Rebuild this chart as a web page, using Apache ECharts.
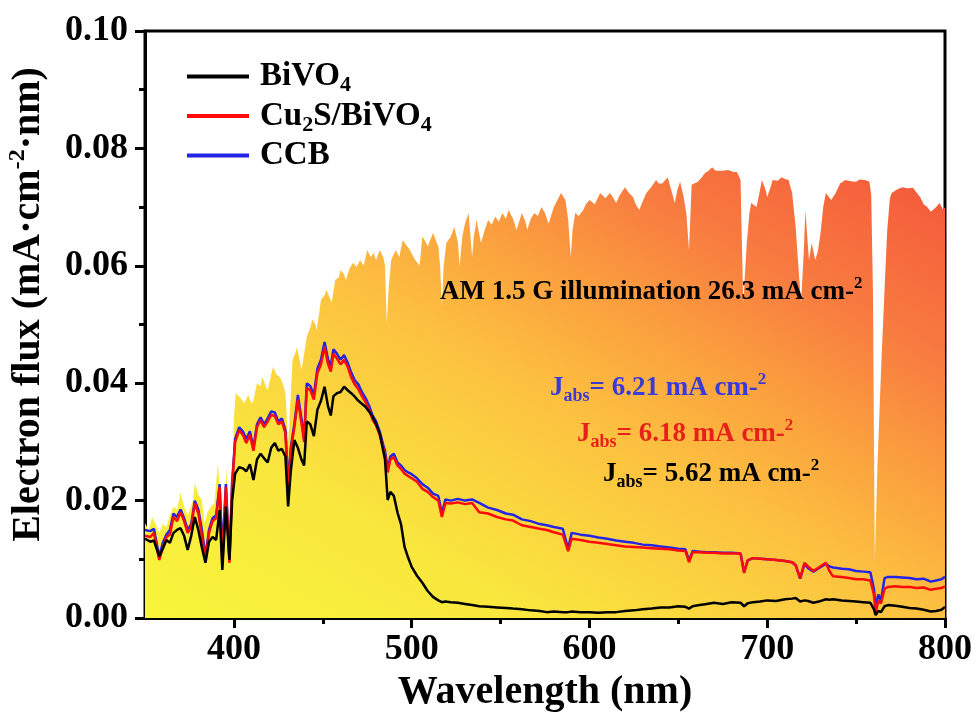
<!DOCTYPE html>
<html>
<head>
<meta charset="utf-8">
<script src="https://cdn.jsdelivr.net/npm/echarts@6.0.0/dist/echarts.min.js"></script>
<style>
html,body{margin:0;padding:0;background:#fff;}
#chart{width:976px;height:718px;}
</style>
</head>
<body>
<div id="chart"></div>
<script>
// AM 1.5G electron flux
var amWl = [350,352,354,356,358,360,362,364,366,368,370,372,374,375,377,378,380,382,383.5,385,387,389,391,392.5,393.5,395,396,397,398.5,
  400,401,403,405,406,408,410,411,413,415,416,418,419,421,422,424,426,428,429,430.5,432,433,435,435.5,437,438,439.5,441,443,444,446,446.5,448,449,
  451,452,454,455,457,459,460,462,463,465,467,469,471,473,475,477,478.5,480,482,484,485,486,487,488.5,491,493,495,497,499,
  501,502,504.5,506,508,509,512,514,515,516,517,518,519.5,522,524,526,527,528.5,530,532,534,535,536.5,539,541,543,545,547,549,
  551,553,554.5,557,559,562,564,565,567,569,571,573,575,577,580,582,584,586.5,588,589.5,590.5,592,594,596.5,598,
  600,603,606,609,611.5,613,615,617,620,622,624.5,626,628,630,632,635,637.5,639,641,644,646,648,649.5,651,653,654.5,656,657.5,
  661,663,665,667,669,671,672,675,678,681,683,685,686.5,688.5,690,691,694,696,697,699,
  700,702,703,706,708,710,712,714,716,717.5,719,720.5,721.5,722.5,723.5,725,727,728.5,730,731.5,733,736,738.5,741,744,747,750,752,755,757.5,758.5,759.5,
  760.5,762,764,766,767.5,769,770,773,776,779,782,784,786,788,790,792,793,795,797,799,800];
var amFlux = [0.0162,0.0150,0.0172,0.0160,0.0145,0.0160,0.0155,0.0175,0.0190,0.0185,0.0213,0.0190,0.0175,0.0184,0.0200,0.0230,0.0210,0.0201,0.0160,0.0179,0.0190,0.0195,0.0264,0.0200,0.0138,0.0200,0.0257,0.0133,0.0150,
  0.0340,0.0383,0.0377,0.0370,0.0366,0.0380,0.0365,0.0371,0.0400,0.0395,0.0410,0.0395,0.0388,0.0415,0.0428,0.0415,0.0410,0.0395,0.0383,0.0300,0.0380,0.0440,0.0455,0.0462,0.0440,0.0422,0.0450,0.0479,0.0495,0.0508,0.0500,0.0490,0.0520,0.0542,
  0.0550,0.0559,0.0545,0.0537,0.0576,0.0580,0.0593,0.0585,0.0576,0.0595,0.0605,0.0598,0.0610,0.0600,0.0627,0.0615,0.0622,0.0610,0.0627,0.0615,0.0600,0.0502,0.0560,0.0610,0.0627,0.0615,0.0644,0.0635,0.0627,
  0.0615,0.0610,0.0600,0.0650,0.0640,0.0633,0.0656,0.0640,0.0633,0.0600,0.0530,0.0600,0.0639,0.0650,0.0666,0.0640,0.0600,0.0650,0.0672,0.0690,0.0615,0.0650,0.0678,0.0639,0.0660,0.0678,0.0670,0.0684,0.0675,
  0.0690,0.0680,0.0695,0.0680,0.0661,0.0690,0.0675,0.0661,0.0680,0.0690,0.0685,0.0700,0.0690,0.0672,0.0700,0.0712,0.0724,0.0712,0.0680,0.0615,0.0660,0.0690,0.0685,0.0695,0.0705,
  0.0712,0.0705,0.0724,0.0715,0.0724,0.0718,0.0707,0.0720,0.0734,0.0725,0.0717,0.0705,0.0695,0.0710,0.0724,0.0735,0.0746,0.0740,0.0740,0.0751,0.0729,0.0707,0.0730,0.0743,0.0717,0.0690,0.0627,0.0738,
  0.0743,0.0750,0.0758,0.0762,0.0768,0.0762,0.0760,0.0762,0.0763,0.0760,0.0760,0.0746,0.0537,0.0639,0.0690,0.0707,0.0700,0.0730,0.0746,0.0730,
  0.0717,0.0735,0.0746,0.0745,0.0751,0.0748,0.0746,0.0724,0.0666,0.0600,0.0537,0.0620,0.0695,0.0650,0.0610,0.0639,0.0610,0.0625,0.0656,0.0700,0.0724,0.0712,0.0724,0.0740,0.0746,0.0744,0.0743,0.0747,0.0746,0.0743,0.0720,0.0550,
  0.0095,0.0260,0.0420,0.0560,0.0660,0.0715,0.0724,0.0730,0.0734,0.0732,0.0733,0.0725,0.0717,0.0705,0.0700,0.0692,0.0695,0.0700,0.0707,0.0695,0.0700];

// sample curves on a shared wavelength grid
var sampleWl = [350,353,355,358,360,362,364,366,368,370,372,374,376,378,380,382,384,386,388,390,392,393.5,395.5,397.5,399,
  400.7,403,405,407,409,411,413,415,417,419,421,423,425,427,429,430.5,432,434,436,438,439.5,441,443,445,447,449,451,453,454.5,456,458,
  460,462,464,466,468,470,472,474,476,478,480,482,484,485,486.5,488,490,492,494,496,498,
  500,503,506,509,512,515,517,519,522,526,530,534,538,543,548,553,557,562,567,572,576,580,585,588,590,595,
  600,605,610,615,620,625,630,635,640,645,650,654,656,658,662,666,670,675,680,685,687,689,692,696,
  700,705,710,714,716,718.5,721,723,726,729,733,735,737,742,746,750,754,758,760,761,762.5,764,766,768,772,776,780,784,788,792,795,798,800];
var ccbFlux = [0.0150,0.0148,0.0152,0.0105,0.0128,0.0142,0.0150,0.0178,0.0172,0.0185,0.0170,0.0150,0.0160,0.0200,0.0185,0.0150,0.0105,0.0150,0.0170,0.0175,0.0228,0.0110,0.0228,0.0100,0.0230,
  0.0305,0.0325,0.0318,0.0305,0.0318,0.0290,0.0330,0.0342,0.0330,0.0340,0.0352,0.0350,0.0335,0.0340,0.0320,0.0230,0.0290,0.0330,0.0380,0.0340,0.0305,0.0400,0.0395,0.0380,0.0425,0.0440,0.0470,0.0440,0.0430,0.0458,0.0450,
  0.0440,0.0448,0.0435,0.0418,0.0405,0.0398,0.0385,0.0375,0.0362,0.0345,0.0335,0.0318,0.0295,0.0285,0.0255,0.0275,0.0280,0.0265,0.0260,0.0252,0.0248,
  0.0245,0.0238,0.0228,0.0222,0.0212,0.0208,0.0178,0.0202,0.0200,0.0203,0.0200,0.0202,0.0196,0.0188,0.0184,0.0178,0.0176,0.0168,0.0165,0.0160,0.0158,0.0155,0.0152,0.0118,0.0145,0.0142,
  0.0140,0.0137,0.0135,0.0132,0.0130,0.0128,0.0125,0.0124,0.0122,0.0120,0.0118,0.0117,0.0098,0.0114,0.0113,0.0112,0.0112,0.0111,0.0111,0.0110,0.0078,0.0098,0.0102,0.0101,
  0.0100,0.0099,0.0097,0.0095,0.0090,0.0067,0.0092,0.0085,0.0079,0.0085,0.0092,0.0088,0.0086,0.0084,0.0083,0.0080,0.0079,0.0078,0.0050,0.0019,0.0040,0.0030,0.0068,0.0070,0.0070,0.0069,0.0068,0.0066,0.0067,0.0062,0.0064,0.0066,0.0070];
var cu2sFlux = [0.0140,0.0138,0.0145,0.0099,0.0120,0.0138,0.0142,0.0172,0.0165,0.0180,0.0165,0.0145,0.0155,0.0195,0.0178,0.0140,0.0099,0.0145,0.0165,0.0170,0.0223,0.0090,0.0223,0.0094,0.0225,
  0.0300,0.0320,0.0312,0.0298,0.0312,0.0285,0.0325,0.0337,0.0325,0.0335,0.0346,0.0344,0.0330,0.0335,0.0315,0.0220,0.0285,0.0325,0.0372,0.0332,0.0300,0.0392,0.0388,0.0372,0.0418,0.0432,0.0462,0.0432,0.0420,0.0450,0.0442,
  0.0432,0.0440,0.0428,0.0410,0.0398,0.0390,0.0378,0.0368,0.0355,0.0338,0.0328,0.0312,0.0290,0.0278,0.0248,0.0270,0.0274,0.0260,0.0254,0.0246,0.0242,
  0.0238,0.0232,0.0220,0.0215,0.0206,0.0200,0.0172,0.0196,0.0195,0.0197,0.0194,0.0196,0.0180,0.0178,0.0172,0.0168,0.0166,0.0158,0.0155,0.0152,0.0150,0.0146,0.0142,0.0114,0.0135,0.0133,
  0.0130,0.0128,0.0126,0.0124,0.0122,0.0121,0.0120,0.0119,0.0118,0.0117,0.0115,0.0114,0.0095,0.0112,0.0112,0.0111,0.0111,0.0110,0.0110,0.0110,0.0077,0.0098,0.0102,0.0101,
  0.0100,0.0099,0.0097,0.0095,0.0090,0.0068,0.0094,0.0088,0.0080,0.0086,0.0094,0.0080,0.0071,0.0070,0.0068,0.0066,0.0066,0.0064,0.0040,0.0009,0.0030,0.0025,0.0050,0.0053,0.0054,0.0053,0.0053,0.0051,0.0052,0.0048,0.0050,0.0051,0.0054];
var bivoFlux = [0.0135,0.0130,0.0132,0.0105,0.0118,0.0133,0.0128,0.0145,0.0150,0.0153,0.0140,0.0116,0.0140,0.0172,0.0150,0.0120,0.0094,0.0130,0.0138,0.0133,0.0184,0.0082,0.0190,0.0099,0.0200,
  0.0246,0.0257,0.0255,0.0250,0.0262,0.0235,0.0270,0.0280,0.0272,0.0265,0.0290,0.0298,0.0285,0.0288,0.0275,0.0190,0.0250,0.0303,0.0290,0.0270,0.0260,0.0335,0.0330,0.0310,0.0355,0.0370,0.0394,0.0360,0.0345,0.0378,0.0383,
  0.0385,0.0394,0.0388,0.0383,0.0377,0.0370,0.0365,0.0360,0.0352,0.0343,0.0330,0.0315,0.0285,0.0270,0.0201,0.0215,0.0208,0.0180,0.0160,0.0121,0.0103,
  0.0087,0.0072,0.0060,0.0046,0.0036,0.0030,0.0027,0.0028,0.0027,0.0026,0.0024,0.0022,0.0020,0.0019,0.0018,0.0017,0.0016,0.0015,0.0013,0.0012,0.0010,0.0011,0.0010,0.0010,0.0011,0.0010,
  0.0010,0.0009,0.0010,0.0010,0.0012,0.0013,0.0015,0.0016,0.0018,0.0018,0.0020,0.0019,0.0016,0.0020,0.0022,0.0024,0.0026,0.0024,0.0027,0.0026,0.0020,0.0025,0.0027,0.0028,
  0.0030,0.0029,0.0032,0.0033,0.0034,0.0028,0.0030,0.0029,0.0026,0.0028,0.0032,0.0031,0.0032,0.0030,0.0029,0.0028,0.0027,0.0026,0.0015,0.0005,0.0012,0.0010,0.0020,0.0022,0.0021,0.0019,0.0017,0.0016,0.0014,0.0011,0.0012,0.0014,0.0019];

var xMajor = [400,500,600,700,800];
var xMinor = [450,550,650,750];

var FONT = 'Liberation Serif';

function pairs(xs, ys) {
	return xs.map(function(x, i) { return [x, ys[i]]; });
}

var legendNames = {
	'BiVO4': '{g|}{n|BiVO}{sub|4}',
	'Cu2S/BiVO4': '{g|}{n|Cu}{sub|2}{n|S/BiVO}{sub|4}',
	'CCB': '{g|}{n|CCB}'
};

function annoRich(color) {
	return {
		n: {fontFamily: FONT, fontWeight: 'bold', fontSize: 27, lineHeight: 34, fill: color},
		sub: {fontFamily: FONT, fontWeight: 'bold', fontSize: 18, lineHeight: 18, verticalAlign: 'bottom', fill: color},
		sup: {fontFamily: FONT, fontWeight: 'bold', fontSize: 17, lineHeight: 17, verticalAlign: 'top', fill: color}
	};
}

var myChart = echarts.init(document.getElementById('chart'));
var option = {
	animation: false,
	grid: {
		left: 145, right: 31, top: 31, bottom: 100,
		show: true, borderColor: '#000', borderWidth: 3,
		outerBoundsMode: 'none'
	},
	legend: {
		data: ['BiVO4', 'Cu2S/BiVO4', 'CCB'],
		orient: 'vertical',
		left: 182, top: 55,
		icon: 'rect',
		itemWidth: 62, itemHeight: 4, itemGap: 3,
		formatter: function(name) { return legendNames[name]; },
		textStyle: {
			color: '#000',
			rich: {
				g: {width: 6},
				n: {fontFamily: FONT, fontWeight: 'bold', fontSize: 33, lineHeight: 40, color: '#000'},
				sub: {fontFamily: FONT, fontWeight: 'bold', fontSize: 22, lineHeight: 22, verticalAlign: 'bottom', color: '#000'}
			}
		}
	},
	xAxis: [{
		type: 'value', min: 350, max: 800,
		name: 'Wavelength (nm)', nameLocation: 'middle', nameGap: 46,
		nameTextStyle: {fontFamily: FONT, fontWeight: 'bold', fontSize: 40, color: '#000'},
		axisLine: {lineStyle: {color: '#000', width: 3}},
		axisTick: {customValues: xMajor, length: 10, lineStyle: {color: '#000', width: 3}},
		axisLabel: {customValues: xMajor, margin: 14, fontFamily: FONT, fontWeight: 'bold', fontSize: 36, color: '#000'},
		splitLine: {show: false}
	}, {
		type: 'value', min: 350, max: 800, position: 'bottom',
		axisLine: {show: false},
		axisTick: {customValues: xMinor, length: 6, lineStyle: {color: '#000', width: 3}},
		axisLabel: {show: false},
		splitLine: {show: false}
	}],
	yAxis: {
		type: 'value', min: 0, max: 0.1, interval: 0.02,
		name: '{n|Electron flux (mA·cm}{sup|-2}{n|·nm)}',
		nameLocation: 'middle', nameGap: 93,
		nameTextStyle: {
			padding: [0, 0, 0, 40],
			rich: {
				n: {fontFamily: FONT, fontWeight: 'bold', fontSize: 40, lineHeight: 46, color: '#000'},
				sup: {fontFamily: FONT, fontWeight: 'bold', fontSize: 24, lineHeight: 24, verticalAlign: 'top', color: '#000'}
			}
		},
		axisLine: {lineStyle: {color: '#000', width: 3}},
		axisTick: {length: 10, lineStyle: {color: '#000', width: 3}},
		minorTick: {show: true, splitNumber: 2, length: 6, lineStyle: {color: '#000', width: 3}},
		axisLabel: {
			margin: 17, fontFamily: FONT, fontWeight: 'bold', fontSize: 36, color: '#000',
			formatter: function(v) { return v.toFixed(2); }
		},
		splitLine: {show: false},
		minorSplitLine: {show: false}
	},
	series: [{
		name: 'AM 1.5G', type: 'line', symbol: 'none', silent: true, z: 1,
		data: pairs(amWl, amFlux),
		lineStyle: {width: 0},
		areaStyle: {
			opacity: 1,
			// colour bands run parallel to the top-left / bottom-right diagonal of the filled area
			color: new echarts.graphic.LinearGradient(0, 1, 0.482, -0.518, [
				{offset: 0, color: '#f7f53a'},
				{offset: 0.25, color: '#f9e63e'},
				{offset: 0.5, color: '#fcc040'},
				{offset: 0.62, color: '#fba53e'},
				{offset: 0.78, color: '#f87c40'},
				{offset: 1, color: '#f4553a'}
			])
		}
	}, {
		name: 'CCB', type: 'line', symbol: 'none', z: 3,
		data: pairs(sampleWl, ccbFlux),
		itemStyle: {color: '#2424e8'},
		lineStyle: {color: '#2424e8', width: 2.5}
	}, {
		name: 'Cu2S/BiVO4', type: 'line', symbol: 'none', z: 4,
		data: pairs(sampleWl, cu2sFlux),
		itemStyle: {color: '#ff0a0a'},
		lineStyle: {color: '#ff0a0a', width: 2.5}
	}, {
		name: 'BiVO4', type: 'line', symbol: 'none', z: 5,
		data: pairs(sampleWl, bivoFlux),
		itemStyle: {color: '#000'},
		lineStyle: {color: '#000', width: 2.5}
	}],
	graphic: [{
		type: 'text', left: 440, top: 275, z: 10,
		style: {text: '{n|AM 1.5 G illumination 26.3 mA cm-}{sup|2}', rich: annoRich('#000')}
	}, {
		type: 'text', left: 550, top: 371, z: 10,
		style: {text: '{n|J}{sub|abs}{n|= 6.21 mA cm-}{sup|2}', rich: annoRich('#3a3ad8')}
	}, {
		type: 'text', left: 577, top: 417, z: 10,
		style: {text: '{n|J}{sub|abs}{n|= 6.18 mA cm-}{sup|2}', rich: annoRich('#e8201a')}
	}, {
		type: 'text', left: 603, top: 457, z: 10,
		style: {text: '{n|J}{sub|abs}{n|= 5.62 mA cm-}{sup|2}', rich: annoRich('#000')}
	}]
};
myChart.setOption(option);
</script>
</body>
</html>
